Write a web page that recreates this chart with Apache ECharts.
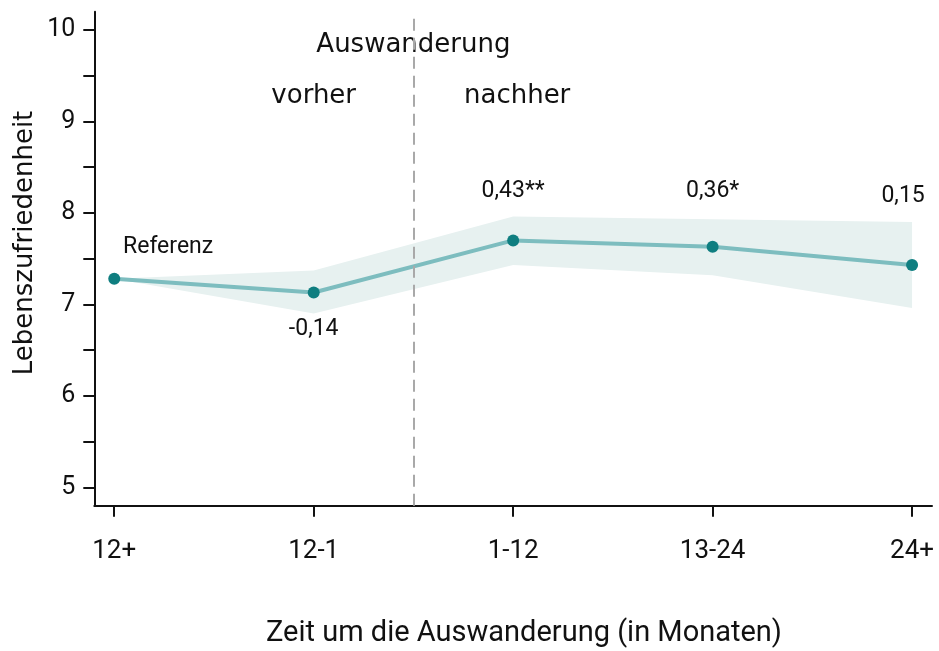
<!DOCTYPE html>
<html>
<head>
<meta charset="utf-8">
<script src="https://cdn.jsdelivr.net/npm/echarts@6/dist/echarts.min.js"></script>
<style>
html, body { margin: 0; padding: 0; background: #fff; }
#main { width: 939px; height: 651px; }
</style>
</head>
<body>
<div id="main"></div>
<script>
// data
var categories = ['12+', '12-1', '1-12', '13-24', '24+'];
var estimate = [7.28, 7.13, 7.70, 7.63, 7.43];
var ciLow = [7.28, 6.90, 7.43, 7.32, 6.96];
var ciHigh = [7.28, 7.37, 7.96, 7.93, 7.90];

// effect labels, placed in data units
var noteText = ['Referenz', '-0,14', '0,43**', '0,36*', '0,15'];
var noteX = [0.27, 1, 2, 3, 3.955];
var noteY = [7.63, 6.73, 8.24, 8.24, 8.18];

var phaseText = ['Auswanderung', 'vorher', 'nachher'];
var phaseX = [1.5, 1.0, 2.02];
var phaseY = [9.83, 9.28, 9.28];
var emigrationAt = 1.5;

var xRange = [-0.1, 4.1];
var yRange = [4.8, 10.2];
var yTickRange = [5, 10];

var plot = { left: 94.3, right: 932, top: 11.7, bottom: 505.7 };
var ux = (plot.right - plot.left) / (xRange[1] - xRange[0]);
var uy = (plot.bottom - plot.top) / (yRange[1] - yRange[0]);

// inner grid: only carries the tick marks and labels
var inner = {
    left: plot.left + (0 - xRange[0]) * ux,
    right: plot.left + (categories.length - 1 - xRange[0]) * ux,
    top: plot.bottom - (yTickRange[1] - yRange[0]) * uy,
    bottom: plot.bottom - (yTickRange[0] - yRange[0]) * uy
};

var din = 'Roboto';
var textCol = '#111';

var bandPts = categories.map(function (c, i) { return [i, ciLow[i], ciHigh[i]]; });
var linePts = estimate.map(function (v, i) { return [i, v]; });
var notePts = noteText.map(function (t, i) { return { value: [noteX[i], noteY[i]], name: t }; });
var phasePts = phaseText.map(function (t, i) { return { value: [phaseX[i], phaseY[i]], name: t }; });

// confidence band as one polygon: upper edge left->right, lower edge back
function renderBand(params, api) {
    if (params.dataIndex !== 0) return;
    var up = [], lo = [];
    for (var i = 0; i < bandPts.length; i++) {
        up.push(api.coord([bandPts[i][0], bandPts[i][2]]));
        lo.unshift(api.coord([bandPts[i][0], bandPts[i][1]]));
    }
    return {
        type: 'polygon',
        shape: { points: up.concat(lo) },
        style: { fill: '#e7f1f0' }
    };
}

var myChart = echarts.init(document.getElementById('main'));
myChart.setOption({
    animation: false,
    grid: [
        { left: plot.left, width: plot.right - plot.left, top: plot.top, height: plot.bottom - plot.top, containLabel: false },
        { left: inner.left, width: inner.right - inner.left, top: inner.top, height: inner.bottom - inner.top, containLabel: false }
    ],
    xAxis: [
        {
            gridIndex: 0, type: 'value', min: xRange[0], max: xRange[1],
            axisLine: { show: true, onZero: false, lineStyle: { color: '#111', width: 2 } },
            axisTick: { show: false }, axisLabel: { show: false }, splitLine: { show: false }
        },
        {
            gridIndex: 1, type: 'category', data: categories, boundaryGap: false,
            offset: plot.bottom - inner.bottom,
            axisLine: { show: false, onZero: false },
            axisTick: { show: true, length: 11, lineStyle: { color: '#111', width: 2 } },
            axisLabel: { color: textCol, fontFamily: din, fontSize: 26, margin: 33 },
            splitLine: { show: false }
        }
    ],
    yAxis: [
        {
            gridIndex: 0, type: 'value', min: yRange[0], max: yRange[1],
            axisLine: { show: true, onZero: false, lineStyle: { color: '#111', width: 2 } },
            axisTick: { show: false }, axisLabel: { show: false }, splitLine: { show: false }
        },
        {
            gridIndex: 1, type: 'value', min: yTickRange[0], max: yTickRange[1], interval: 0.5,
            offset: inner.left - plot.left,
            axisLine: { show: false, onZero: false },
            axisTick: { show: true, length: 11, lineStyle: { color: '#111', width: 2 } },
            axisLabel: {
                color: textCol, fontFamily: din, fontSize: 25, margin: 19,
                formatter: function (v) { return v % 1 === 0 ? String(v) : ''; }
            },
            splitLine: { show: false }
        }
    ],
    graphic: [
        {
            type: 'text', x: 25, y: 243, rotation: Math.PI / 2,
            style: { text: 'Lebenszufriedenheit', fontFamily: 'DejaVu Sans', fontSize: 26, fill: textCol, align: 'center', verticalAlign: 'middle' }
        },
        {
            type: 'text', x: 524, y: 634,
            style: { text: 'Zeit um die Auswanderung (in Monaten)', fontFamily: din, fontSize: 29, fill: textCol, align: 'center', verticalAlign: 'middle' }
        }
    ],
    series: [
        {
            type: 'custom', xAxisIndex: 0, yAxisIndex: 0, data: bandPts,
            renderItem: renderBand, silent: true, z: 1
        },
        {
            type: 'line', xAxisIndex: 0, yAxisIndex: 0, data: linePts,
            symbol: 'circle', symbolSize: 12,
            itemStyle: { color: '#0f7e80' },
            lineStyle: { color: '#7dbdbf', width: 4 },
            z: 3
        },
        {
            type: 'line', xAxisIndex: 0, yAxisIndex: 0, data: [], z: 5,
            markLine: {
                silent: true, symbol: 'none', label: { show: false },
                lineStyle: { color: '#a9a9a9', width: 2, type: [12, 7] },
                data: [[{ coord: [emigrationAt, yRange[0]] }, { coord: [emigrationAt, yRange[1]] }]]
            }
        },
        {
            type: 'scatter', xAxisIndex: 0, yAxisIndex: 0, data: notePts, symbolSize: 0,
            itemStyle: { opacity: 1 },
            label: {
                show: true, position: 'inside', formatter: '{b}',
                color: textCol, fontFamily: din, fontSize: 23
            }
        },
        {
            type: 'scatter', xAxisIndex: 0, yAxisIndex: 0, data: phasePts, symbolSize: 0,
            itemStyle: { opacity: 1 },
            label: {
                show: true, position: 'inside', formatter: '{b}',
                color: textCol, fontFamily: 'DejaVu Sans', fontSize: 26
            }
        }
    ]
});
</script>
</body>
</html>
